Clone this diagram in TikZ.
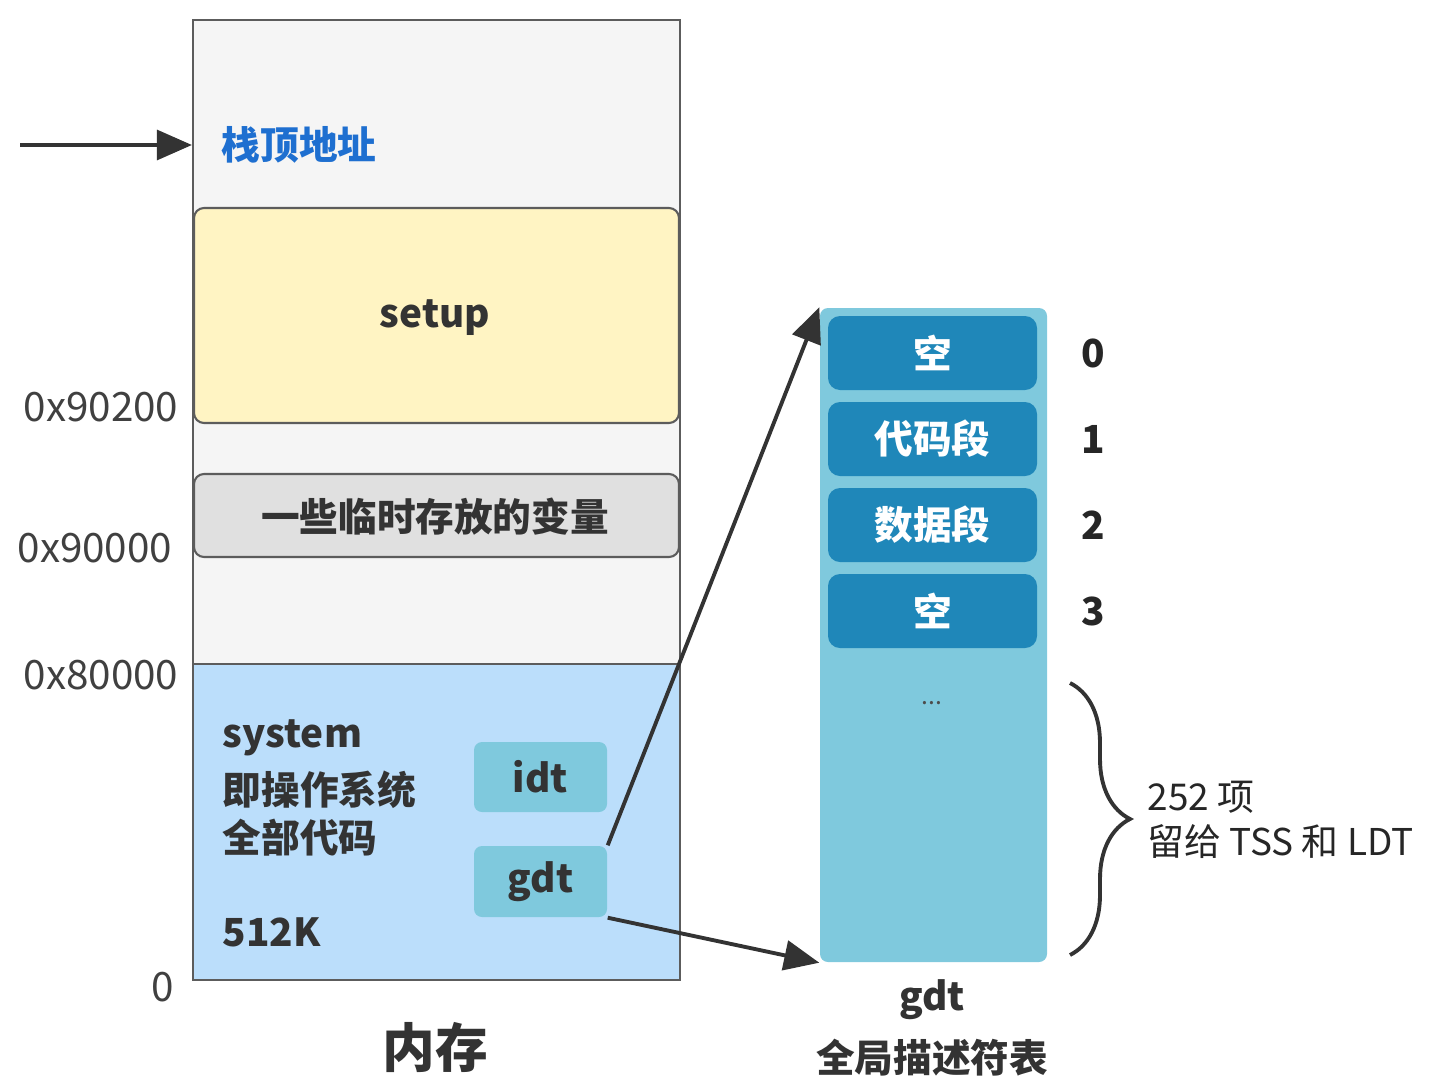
\documentclass[tikz,border=0pt]{standalone}
\usepackage{fontspec}
\setmainfont{Noto Sans CJK SC}
\usetikzlibrary{arrows.meta,decorations.pathreplacing}

\definecolor{memgray}{HTML}{F5F5F5}
\definecolor{setupyellow}{HTML}{FFF4C3}
\definecolor{tmpgray}{HTML}{E0E0E0}
\definecolor{sysblue}{HTML}{BBDEFB}
\definecolor{tblblue}{HTML}{7FC9DD}
\definecolor{entryblue}{HTML}{1F87B9}
\definecolor{stackblue}{HTML}{1E6FD0}
\definecolor{linegray}{HTML}{333333}

\begin{document}
\begin{tikzpicture}[
    txt/.style={font=\fontsize{11.5}{14}\selectfont, inner sep=0pt},
    boldtxt/.style={font=\fontsize{11}{14}\selectfont\bfseries, inner sep=0pt},
    region/.style={draw=linegray!80, line width=0.6pt},
    cell/.style={fill=tblblue, rounded corners=0.08cm, inner sep=0pt},
    entry/.style={fill=entryblue, rounded corners=0.12cm, minimum width=2.09cm,
        minimum height=0.74cm, inner sep=0pt, text=white,
        font=\fontsize{11}{14}\selectfont\bfseries},
    arr/.style={draw=linegray, line width=1.1pt, -{Triangle[length=10pt,width=8.5pt]}}
]
    \useasboundingbox (0,0) rectangle (14.44,10.90);

    % memory column
    \node[region, fill=memgray, minimum width=4.87cm, minimum height=9.60cm, inner sep=0pt] (mem) at (4.365,5.90) {};
    \node[region, fill=sysblue, minimum width=4.87cm, minimum height=3.16cm, inner sep=0pt] (sys) at (4.365,2.68) {};
    \node[region, fill=setupyellow, rounded corners=0.1cm, minimum width=4.85cm, minimum height=2.15cm, inner sep=0pt] (setup) at (4.365,7.745) {};
    \node[region, fill=tmpgray, rounded corners=0.1cm, minimum width=4.85cm, minimum height=0.83cm, inner sep=0pt] (tmpvar) at (4.365,5.745) {};
    \node[boldtxt, text=black!80] (setuptxt) at (4.35,7.72) {setup};
    \node[boldtxt, text=black!80] (tmpvartxt) at (4.35,5.73) {一些临时存放的变量};
    \node[boldtxt, text=stackblue, anchor=west] (stacktop) at (2.21,9.45) {栈顶地址};

    % addresses
    \node[txt, anchor=east, text=black!75] (a90200) at (1.79,6.83) {0x90200};
    \node[txt, anchor=east, text=black!75] (a90000) at (1.73,5.42) {0x90000};
    \node[txt, anchor=east, text=black!75] (a80000) at (1.79,4.15) {0x80000};
    \node[txt, text=black!75] (a0) at (1.63,1.03) {0};

    % system part
    \node[boldtxt, text=black!80, anchor=west] (systxt1) at (2.22,3.52) {system};
    \node[boldtxt, text=black!80, anchor=west] (systxt2) at (2.22,3.00) {即操作系统};
    \node[boldtxt, text=black!80, anchor=west] (systxt3) at (2.22,2.52) {全部代码};
    \node[boldtxt, text=black!80, anchor=west] (syssize) at (2.22,1.58) {512K};
    \node[cell, minimum width=1.33cm, minimum height=0.70cm, boldtxt, text=black!80] (idt) at (5.405,3.13) {idt};
    \node[cell, minimum width=1.33cm, minimum height=0.71cm, boldtxt, text=black!80] (gdt) at (5.405,2.085) {gdt};
    \node[font=\fontsize{15}{18}\selectfont\bfseries, text=black!80] (memtxt) at (4.35,0.43) {内存};

    % gdt table
    \node[cell, minimum width=2.27cm, minimum height=6.54cm] (tbl) at (9.335,4.55) {};
    \node[entry] (e0) at (9.325,7.37) {空};
    \node[entry] (e1) at (9.325,6.51) {代码段};
    \node[entry] (e2) at (9.325,5.65) {数据段};
    \node[entry] (e3) at (9.325,4.79) {空};
    \node[boldtxt, text=black!85] (i0) at (10.93,7.37) {0};
    \node[boldtxt, text=black!85] (i1) at (10.93,6.51) {1};
    \node[boldtxt, text=black!85] (i2) at (10.93,5.65) {2};
    \node[boldtxt, text=black!85] (i3) at (10.93,4.79) {3};
    \node[txt, font=\scriptsize, text=black!70] (dots) at (9.32,3.87) {...};
    \node[boldtxt, text=black!80] (tbltxt1) at (9.32,0.90) {gdt};
    \node[boldtxt, text=black!80] (tbltxt2) at (9.32,0.32) {全局描述符表};

    % brace
    \coordinate (bt) at (10.70,4.07);
    \coordinate (bb) at (10.70,1.35);
    \draw[linegray, line width=1.1pt, decorate, decoration={brace, amplitude=0.6cm}] (bt) -- (bb);
    \node[txt, font=\fontsize{10.5}{13}\selectfont, text=black!85, anchor=west] (resv1) at (11.47,2.93) {252 项};
    \node[txt, font=\fontsize{10.5}{13}\selectfont, text=black!85, anchor=west] (resv2) at (11.47,2.48) {留给 TSS 和 LDT};

    % arrows
    \coordinate (src) at (0.20,9.45);
    \draw[arr] (src) -- (mem.west |- src);
    \draw[arr] (gdt.north east) -- (tbl.north west);
    \draw[arr] (gdt.south east) -- (tbl.south west);
\end{tikzpicture}
\end{document}
